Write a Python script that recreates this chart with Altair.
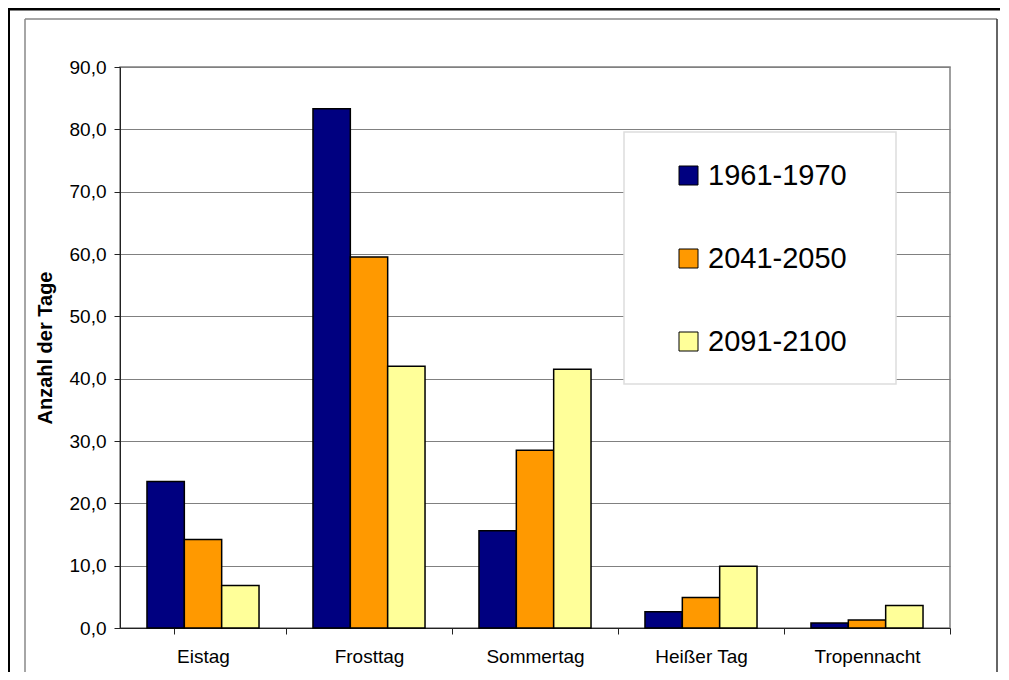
import altair as alt
import pandas as pd

categories = ["Eistag", "Frosttag", "Sommertag", "Heißer Tag", "Tropennacht"]
periods = ["1961-1970", "2041-2050", "2091-2100"]
v1961 = [23.5, 83.3, 15.6, 2.6, 0.8]
v2041 = [14.2, 59.5, 28.5, 4.9, 1.3]
v2091 = [6.8, 42.0, 41.5, 9.9, 3.6]
colors = ["#000080", "#FF9900", "#FFFF99"]
y_ticks = [0, 10, 20, 30, 40, 50, 60, 70, 80, 90]

rows = []
for series, vals in zip(periods, [v1961, v2041, v2091]):
    for c, v in zip(categories, vals):
        rows.append({"Kategorie": c, "Zeitraum": series, "Tage": v})
df = pd.DataFrame(rows)

FONT = "Liberation Sans"
one = alt.Data(values=[{}])

bars = alt.Chart(df).mark_bar(stroke="black", strokeWidth=1.5).encode(
    x=alt.X("Kategorie:N", sort=categories,
            scale=alt.Scale(paddingInner=0.325, paddingOuter=0.1625),
            axis=alt.Axis(title=None, labelAngle=0, labelFontSize=19, labelFont=FONT,
                          labelColor="black", labelPadding=13, tickSize=6,
                          tickColor="#222", domainColor="#222",
                          bandPosition=1, tickExtra=True, tickOffset=27,
                          labelOffset=-27, grid=False)),
    xOffset=alt.XOffset("Zeitraum:N", sort=periods, scale=alt.Scale(paddingInner=0, paddingOuter=0)),
    y=alt.Y("Tage:Q", scale=alt.Scale(domain=[0, 90], nice=False),
            axis=alt.Axis(title="Anzahl der Tage", values=y_ticks,
                          labelExpr="replace(format(datum.value, '.1f'), '.', ',')",
                          labelFontSize=19, labelFont=FONT, labelColor="black",
                          labelPadding=8, tickSize=6, tickColor="#222",
                          domainColor="#222", gridColor="#808080", gridWidth=1,
                          titleFont=FONT, titleFontSize=20, titleFontWeight="bold",
                          titleColor="black", titlePadding=14)),
    color=alt.Color("Zeitraum:N", sort=periods,
                    scale=alt.Scale(domain=periods, range=colors),
                    legend=alt.Legend(title=None, orient="none", legendX=554, legendY=94,
                                      padding=0, symbolType="square", symbolSize=361,
                                      symbolStrokeColor="black", symbolStrokeWidth=1,
                                      labelFontSize=29, labelFont=FONT, labelColor="black",
                                      rowPadding=53, labelOffset=5)),
)

legend_box = alt.Chart(one).mark_rect(fill="white", stroke="#dddddd", strokeWidth=1.5).encode(
    x=alt.value(504), x2=alt.value(776), y=alt.value(65), y2=alt.value(317))

frame_outer_left = alt.Chart(one).mark_rule(color="black", strokeWidth=4).encode(
    x=alt.value(-112), y=alt.value(-59), y2=alt.value(700))
frame_outer_top = alt.Chart(one).mark_rule(color="black", strokeWidth=5).encode(
    x=alt.value(-112), x2=alt.value(950), y=alt.value(-59))
frame_inner_left = alt.Chart(one).mark_rule(color="#888888", strokeWidth=1.5).encode(
    x=alt.value(-95), y=alt.value(-48), y2=alt.value(700))
frame_inner_top = alt.Chart(one).mark_rule(color="#888888", strokeWidth=1.5).encode(
    x=alt.value(-95), x2=alt.value(877), y=alt.value(-48))
frame_inner_right = alt.Chart(one).mark_rule(color="#333333", strokeWidth=1.5).encode(
    x=alt.value(877), y=alt.value(-48), y2=alt.value(700))

chart = alt.layer(
    bars, legend_box, frame_outer_left, frame_outer_top,
    frame_inner_left, frame_inner_top, frame_inner_right
).properties(
    width=830, height=561,
    autosize=alt.AutoSizeParams(type="none"),
    padding={"left": 112, "top": 59, "right": 50, "bottom": 44},
    background="white",
).configure_view(
    stroke="#808080", strokeWidth=1.5
)

chart.save("out.html", embed_options={"renderer": "svg", "actions": False})
